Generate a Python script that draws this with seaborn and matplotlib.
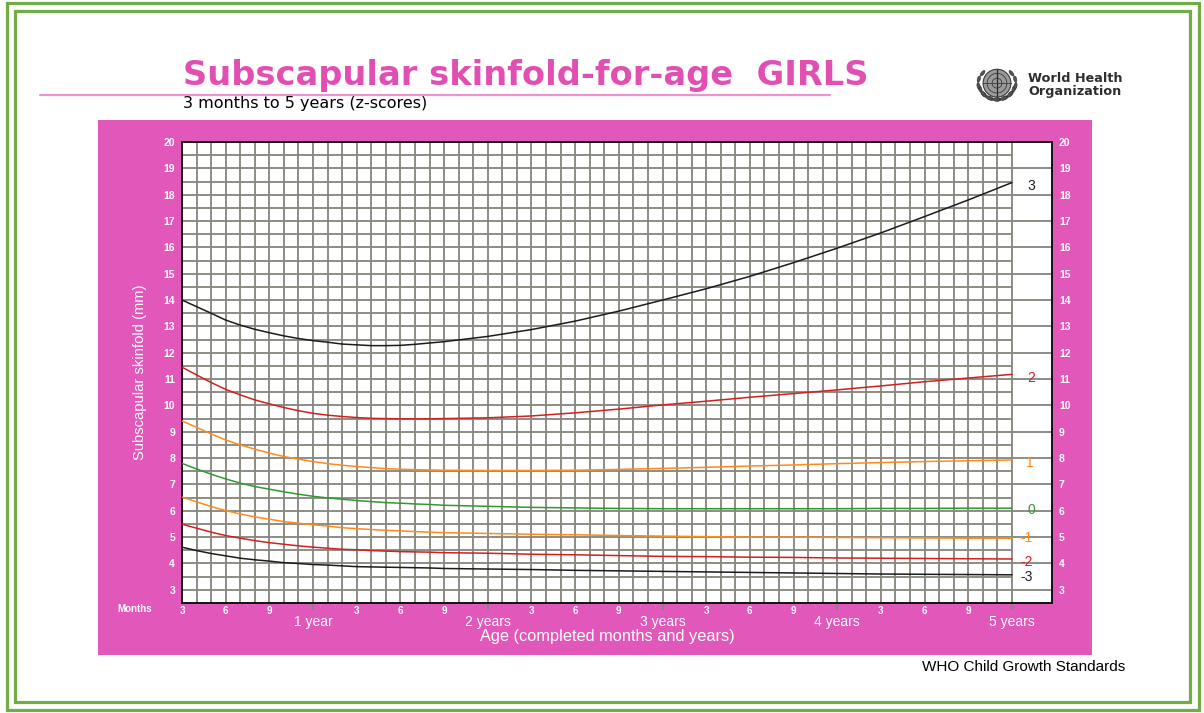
import numpy as np
import pandas as pd
import matplotlib
matplotlib.use("Agg")
import matplotlib.pyplot as plt
from matplotlib.patches import Rectangle, Circle, Ellipse
from matplotlib.lines import Line2D
import seaborn as sns

# Age in completed months, 3 months to 5 years
months = [3, 4, 5, 6, 7, 8, 9, 10, 11, 12, 13, 14, 15, 16, 17, 18, 19, 20, 21,
          24, 27, 30, 33, 36, 39, 42, 45, 48, 51, 54, 57, 60]

# Subscapular skinfold (mm), z-score curves
sd3 = [14.00, 13.75, 13.50, 13.24, 13.05, 12.89, 12.76, 12.64, 12.54, 12.46,
       12.40, 12.33, 12.30, 12.27, 12.27, 12.28, 12.32, 12.37, 12.42,
       12.62, 12.88, 13.20, 13.58, 14.00, 14.43, 14.90, 15.42, 15.97, 16.55,
       17.17, 17.80, 18.46]
sd2 = [11.45, 11.16, 10.87, 10.61, 10.40, 10.21, 10.06, 9.92, 9.80, 9.70,
       9.63, 9.58, 9.54, 9.51, 9.50, 9.49, 9.49, 9.49, 9.50,
       9.53, 9.60, 9.72, 9.86, 10.02, 10.16, 10.31, 10.45, 10.59, 10.74,
       10.90, 11.04, 11.18]
sd1 = [9.41, 9.17, 8.92, 8.69, 8.50, 8.34, 8.19, 8.06, 7.96, 7.87,
       7.79, 7.73, 7.68, 7.64, 7.60, 7.58, 7.56, 7.55, 7.54,
       7.53, 7.53, 7.54, 7.57, 7.61, 7.65, 7.70, 7.74, 7.79, 7.83,
       7.87, 7.90, 7.93]
sd0 = [7.80, 7.59, 7.39, 7.21, 7.05, 6.92, 6.82, 6.72, 6.63, 6.55,
       6.49, 6.44, 6.39, 6.35, 6.31, 6.29, 6.26, 6.24, 6.21,
       6.17, 6.13, 6.11, 6.09, 6.08, 6.08, 6.08, 6.08, 6.08, 6.09,
       6.09, 6.10, 6.10]
sd1neg = [6.52, 6.34, 6.16, 6.01, 5.88, 5.77, 5.68, 5.59, 5.53, 5.47,
          5.42, 5.36, 5.32, 5.29, 5.26, 5.24, 5.21, 5.19, 5.17,
          5.14, 5.11, 5.09, 5.06, 5.04, 5.02, 5.00, 5.00, 4.99, 4.98,
          4.97, 4.96, 4.96]
sd2neg = [5.49, 5.34, 5.19, 5.06, 4.96, 4.87, 4.79, 4.73, 4.67, 4.62,
          4.58, 4.54, 4.52, 4.49, 4.47, 4.45, 4.44, 4.43, 4.41,
          4.39, 4.35, 4.33, 4.30, 4.27, 4.26, 4.24, 4.23, 4.21, 4.20,
          4.19, 4.18, 4.17]
sd3neg = [4.62, 4.49, 4.38, 4.29, 4.20, 4.14, 4.09, 4.03, 4.00, 3.96,
          3.94, 3.91, 3.88, 3.87, 3.86, 3.85, 3.84, 3.83, 3.81,
          3.79, 3.77, 3.74, 3.72, 3.70, 3.68, 3.66, 3.64, 3.62, 3.60,
          3.59, 3.58, 3.57]

z_labels = ["3", "2", "1", "0", "-1", "-2", "-3"]
z_series = [sd3, sd2, sd1, sd0, sd1neg, sd2neg, sd3neg]
z_colors = ["#1c1c1c", "#d41f1f", "#ff8a1c", "#2f9a2f", "#ff8a1c", "#d41f1f", "#1c1c1c"]
z_label_nudge = [-0.12, -0.12, -0.12, -0.08, 0.0, -0.12, -0.1]
z_label_x = [61.35, 61.35, 61.2, 61.35, 61.0, 61.0, 61.0]

year_ticks = [12, 24, 36, 48, 60]
year_labels = ["1 year", "2 years", "3 years", "4 years", "5 years"]
y_ticks = list(range(3, 21))

# layout / styling
W, H = 1204, 713
PINK = "#E158BA"
TITLE_PINK = "#E14FB3"
GRID = "#85857c"
FRAME_GREEN = "#70AD47"
X_MIN, X_MAX, X_END = 3, 60, 62.75
Y_MIN, Y_MAX = 2.5, 20

sns.set_theme(style="white")
plt.rcParams["font.family"] = ["Liberation Sans", "DejaVu Sans"]
plt.rcParams["axes.unicode_minus"] = False

df = pd.DataFrame({
    "month": np.tile(months, len(z_labels)),
    "mm": np.concatenate(z_series),
    "z": np.repeat(z_labels, len(months)),
})

fig = plt.figure(figsize=(W / 100, H / 100), dpi=100)
fig.patch.set_facecolor("white")


def fx(px):
    return px / W


def fy(py):
    return 1 - py / H


# double green frame
for (l, t, r, b) in [(7, 3, 1199, 710), (15, 11, 1190, 702)]:
    fig.add_artist(Rectangle((fx(l), fy(b)), fx(r - l), (b - t) / H,
                             transform=fig.transFigure, fill=False,
                             edgecolor=FRAME_GREEN, linewidth=2.3, zorder=0))

# pink chart panel
fig.add_artist(Rectangle((fx(98), fy(655)), fx(1092 - 98), (655 - 120) / H,
                         transform=fig.transFigure, facecolor=PINK,
                         edgecolor="none", zorder=0))

# title block
fig.text(fx(183), fy(85), "Subscapular skinfold-for-age  GIRLS", color=TITLE_PINK,
         fontsize=24.2, fontweight="bold", ha="left", va="baseline",
         family=["DejaVu Sans"])
fig.add_artist(Line2D([fx(40), fx(830)], [fy(95), fy(95)], transform=fig.transFigure,
                      color="#ee92d2", linewidth=1.6))
fig.text(fx(183), fy(108), "3 months to 5 years (z-scores)", color="black",
         fontsize=11.5, ha="left", va="baseline", family=["DejaVu Sans"])

# organisation mark
fig.text(fx(1028), fy(85), "World Health\nOrganization", color="#2e2e2e",
         fontsize=9.2, fontweight="bold", ha="left", va="center", linespacing=0.95,
         family=["DejaVu Sans"])
emb = fig.add_axes([fx(970), fy(102), 54 / W, 36 / H])
emb.set_xlim(-1.6, 1.6)
emb.set_ylim(-1.1, 1.1)
emb.set_aspect("equal")
emb.axis("off")
emb.add_patch(Circle((0, 0.05), 0.85, facecolor="#9a9a9a", edgecolor="#3a3a3a", lw=0.8))
for r in (0.3, 0.6):
    emb.add_patch(Circle((0, 0.05), r, fill=False, edgecolor="#3a3a3a", lw=0.6))
emb.plot([0, 0], [-0.8, 0.9], color="#2a2a2a", lw=0.9)
emb.plot([-0.85, 0.85], [0.05, 0.05], color="#3a3a3a", lw=0.6)
for side in (-1, 1):
    for ang in np.linspace(200, 320, 6):
        a = np.deg2rad(ang if side < 0 else 540 - ang)
        cx, cy = 1.1 * np.cos(a), 1.0 * np.sin(a) + 0.05
        emb.add_patch(Ellipse((cx, cy), 0.42, 0.2, angle=np.rad2deg(a) + 90,
                              facecolor="#555555", edgecolor="#2a2a2a", lw=0.4))
    for ang in np.linspace(140, 190, 3):
        a = np.deg2rad(ang if side < 0 else 180 - ang)
        cx, cy = 1.15 * np.cos(a), 0.95 * np.sin(a) + 0.05
        emb.add_patch(Ellipse((cx, cy), 0.4, 0.18, angle=np.rad2deg(a) + 90,
                              facecolor="#555555", edgecolor="#2a2a2a", lw=0.4))

fig.text(fx(1125), fy(667), "WHO Child Growth Standards", color="black",
         fontsize=11, ha="right", va="center")

# main chart
ax = fig.add_axes([fx(182), fy(603), fx(1052 - 182), (603 - 142) / H])
ax.set_facecolor("white")
ax.set_xlim(X_MIN, X_END)
ax.set_ylim(Y_MIN, Y_MAX)

# graph-paper grid: monthly columns, half-millimetre rows
ax.vlines(np.arange(X_MIN + 1, X_MAX + 1), Y_MIN, Y_MAX, color=GRID, lw=1.3, zorder=1)
ax.hlines(np.arange(3, Y_MAX, 0.5), X_MIN, X_MAX, color=GRID, lw=1.3, zorder=1)
ax.hlines(np.arange(3, Y_MAX), X_MAX, X_END, color=GRID, lw=1.3, zorder=1)

sns.lineplot(data=df, x="month", y="mm", hue="z", hue_order=z_labels,
             palette=dict(zip(z_labels, z_colors)), legend=False, ax=ax,
             linewidth=1.1, zorder=3)

for lab, ser, col, dy, lx in zip(z_labels, z_series, z_colors, z_label_nudge, z_label_x):
    ax.text(lx, ser[-1] + dy, lab, color=col, fontsize=10, ha="center", va="center",
            zorder=4)

for s in ax.spines.values():
    s.set_visible(True)
    s.set_color("#111111")
    s.set_linewidth(1.4)

# y axis: labels on both sides
ax.set_yticks(y_ticks)
ax.set_yticklabels([str(v) for v in y_ticks])
ax.tick_params(axis="y", which="both", left=False, right=False, length=0,
               labelleft=True, labelright=True, labelsize=7.5, labelcolor="white",
               pad=5)
for t in ax.yaxis.get_major_ticks():
    t.label1.set_fontweight("bold")
    t.label2.set_fontweight("bold")

# x axis: month offsets as minor labels, years as major labels
minor_months = [m for m in range(X_MIN, X_MAX) if m % 12 in (3, 6, 9)]
ax.set_xticks(year_ticks)
ax.set_xticklabels(year_labels)
ax.set_xticks(minor_months, minor=True)
ax.set_xticklabels([str(m % 12) for m in minor_months], minor=True)
ax.tick_params(axis="x", which="major", bottom=True, length=5, width=1.3, color=GRID,
               labelsize=10, labelcolor="white", pad=3.3)
ax.tick_params(axis="x", which="minor", bottom=True, length=0, labelsize=7,
               labelcolor="white", pad=2)
for t in ax.xaxis.get_minor_ticks():
    t.label1.set_fontweight("bold")

ax.set_xlabel("Age (completed months and years)", color="white", fontsize=11.8)
ax.xaxis.set_label_coords((607 - 182) / 870, -(629.5 - 603) / 461)
ax.set_ylabel("Subscapular skinfold (mm)", color="white", fontsize=10.6)
ax.yaxis.set_label_coords(-(182 - 147) / 870, 0.5)

fig.text(fx(135), fy(609), "Months", color="white", fontsize=7, fontweight="bold",
         ha="center", va="center")

fig.savefig("out.png", dpi=100, facecolor="white")
